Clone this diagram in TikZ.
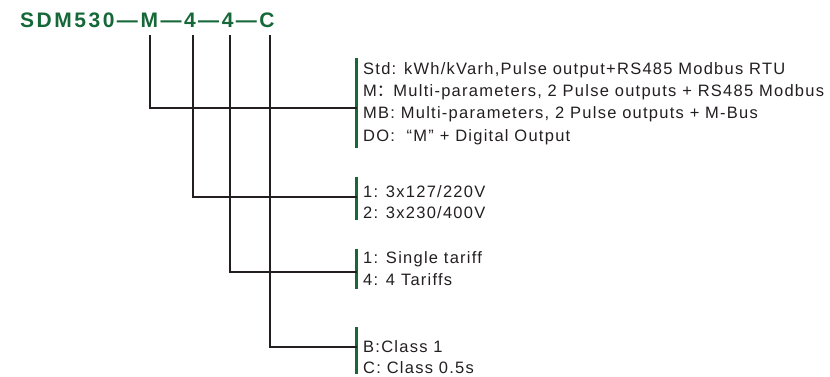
\documentclass[tikz,border=0pt]{standalone}
\usepackage{fontspec}
\setmainfont{Liberation Sans}
\newfontfamily\optfont[LetterSpace=7.6]{Liberation Sans}
\newfontfamily\ttlfont[LetterSpace=12]{Liberation Sans}
\newfontfamily\cjkfont{Noto Sans CJK SC}
\definecolor{tgreen}{RGB}{22,104,56}
\definecolor{tink}{RGB}{35,31,32}
\begin{document}
\begin{tikzpicture}[x=1pt,y=-1pt,
  conn/.style={draw=tink,line width=2pt},
  gbar/.style={draw=tgreen,line width=2.6pt},
  opt/.style={anchor=base west,inner sep=0pt,text=tink,font=\optfont\fontsize{16.5}{20}\selectfont},
  title/.style={anchor=base west,inner sep=0pt,text=tgreen,font=\ttlfont\fontsize{21}{24}\selectfont\bfseries}]
\useasboundingbox (0,0) rectangle (830,376);
\node[title] (ttl) at (20,27) {SDM530—M—4—4—C};
% tops of connectors
\coordinate (tM) at (150,35);
\coordinate (tA) at (193,35);
\coordinate (tB) at (230,35);
\coordinate (tC) at (270,35);
% bars
\coordinate (b1) at (356.5,108);
\coordinate (b2) at (356.5,197);
\coordinate (b3) at (356.5,272);
\coordinate (b4) at (356.5,347);
\draw[gbar] (356.5,58) -- (356.5,148);
\draw[gbar] (356.5,177) -- (356.5,220);
\draw[gbar] (356.5,249) -- (356.5,289);
\draw[gbar] (356.5,327) -- (356.5,374);
\draw[conn] (tM) |- (b1);
\draw[conn] (tA) |- (b2);
\draw[conn] (tB) |- (b3);
\draw[conn] (tC) |- (b4);
% text
\node[opt] (a1) at (363,74) {Std: kWh/kVarh,Pulse output+RS485 Modbus RTU};
\node[opt] (a2) at (363,96.7) {M{\cjkfont ：}Multi-parameters, 2 Pulse outputs + RS485 Modbus};
\node[opt] (a3) at (363,118.5) {MB: Multi-parameters, 2 Pulse outputs + M-Bus};
\node[opt] (a4) at (363,141.5) {DO:\ \ “M” + Digital Output};
\node[opt] (v1) at (363,197) {1: 3x127/220V};
\node[opt] (v2) at (363,218.5) {2: 3x230/400V};
\node[opt] (t1) at (363,263) {1: Single tariff};
\node[opt] (t2) at (363,285) {4: 4 Tariffs};
\node[opt] (c1) at (363,352) {B:Class 1};
\node[opt] (c2) at (363,373) {C: Class 0.5s};
\end{tikzpicture}
\end{document}
